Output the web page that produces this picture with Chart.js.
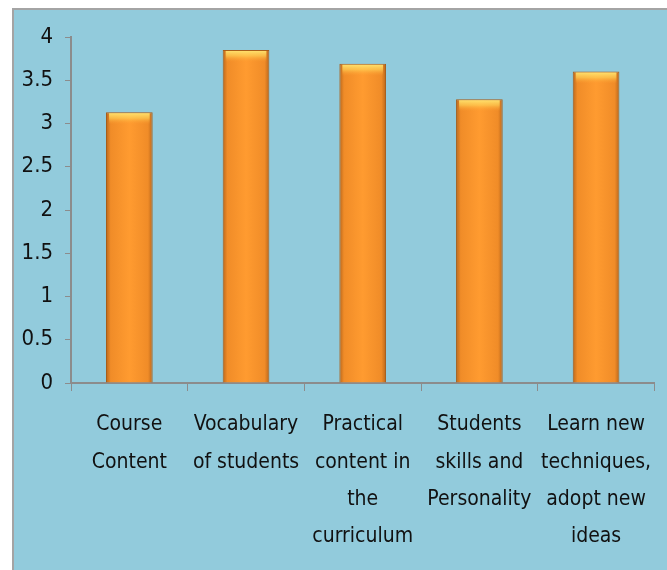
<!DOCTYPE html>
<html>
<head>
<meta charset="utf-8">
<script src="https://cdn.jsdelivr.net/npm/chart.js@4"></script>
<style>
  html, body { margin: 0; padding: 0; background: #fff; }
  #wrap { width: 667px; height: 570px; position: relative; }
</style>
</head>
<body>
<div id="wrap"><canvas id="chart"></canvas></div>
<script>
const categories = [
    ['Course', 'Content'],
    ['Vocabulary', 'of students'],
    ['Practical', 'content in', 'the', 'curriculum'],
    ['Students', 'skills and', 'Personality'],
    ['Learn new', 'techniques,', 'adopt new', 'ideas']
];
const scores = [3.13, 3.85, 3.69, 3.28, 3.6];
const yTicks = [0, 0.5, 1, 1.5, 2, 2.5, 3, 3.5, 4];

const fontFamily = '"Liberation Sans Narrow", "DejaVu Sans Condensed", "Roboto Condensed", sans-serif';

// panel behind the chart
const panel = {
    id: 'panel',
    beforeDraw(chart) {
        const c = chart.ctx;
        c.save();
        c.fillStyle = '#ffffff';
        c.fillRect(0, 0, chart.width, chart.height);
        c.fillStyle = '#92CBDC';
        c.fillRect(12, 8, chart.width - 12, chart.height - 8);
        c.strokeStyle = '#a4a4a4';
        c.lineWidth = 2;
        c.beginPath();
        c.moveTo(13, chart.height);
        c.lineTo(13, 9);
        c.lineTo(chart.width, 9);
        c.stroke();
        c.restore();
    }
};

// light bevel on top of each bar
const bevel = {
    id: 'bevel',
    afterDatasetsDraw(chart) {
        const c = chart.ctx;
        chart.getDatasetMeta(0).data.forEach(bar => {
            const w = bar.width, left = bar.x - w / 2;
            const g = c.createLinearGradient(0, bar.y, 0, bar.y + 12);
            g.addColorStop(0, 'rgba(255,235,120,0.95)');
            g.addColorStop(0.5, 'rgba(255,215,90,0.6)');
            g.addColorStop(1, 'rgba(255,160,50,0)');
            c.save();
            c.fillStyle = g;
            c.fillRect(left + 3, bar.y + 1, w - 6, 12);
            c.restore();
        });
    }
};

function barFill(ctx) {
    const chart = ctx.chart;
    const xs = chart.scales && chart.scales.x;
    if (!xs || ctx.dataIndex === undefined || !xs.width) return '#F7962D';
    const cx = xs.getPixelForValue(ctx.dataIndex);
    const half = xs.width / categories.length * 0.4 / 2;
    if (!isFinite(cx) || !isFinite(half) || half <= 0) return '#F7962D';
    const g = chart.ctx.createLinearGradient(cx - half, 0, cx + half, 0);
    g.addColorStop(0, '#B9661B');
    g.addColorStop(0.1, '#F08C28');
    g.addColorStop(0.5, '#FF9B30');
    g.addColorStop(0.9, '#F08C28');
    g.addColorStop(1, '#B9661B');
    return g;
}

new Chart(document.getElementById('chart'), {
    type: 'bar',
    data: {
        labels: categories,
        datasets: [{
            data: scores,
            backgroundColor: barFill,
            borderColor: '#A85D18',
            borderWidth: 1,
            barPercentage: 0.8,
            categoryPercentage: 0.5
        }]
    },
    options: {
        responsive: true,
        maintainAspectRatio: false,
        animation: false,
        layout: { padding: { left: 12, top: 37, right: 9, bottom: 0 } },
        plugins: {
            legend: { display: false },
            tooltip: { enabled: false }
        },
        scales: {
            x: {
                grid: { drawOnChartArea: false, color: '#8c8c8c', tickLength: 8, offset: true },
                border: { color: '#8c8c8c', width: 2 },
                ticks: {
                    color: '#111111',
                    padding: 15,
                    maxRotation: 0,
                    autoSkip: false,
                    font: { family: fontFamily, size: 21, lineHeight: 1.78 }
                },
                afterFit(scale) { scale.height = 187; }
            },
            y: {
                min: 0,
                max: 4,
                afterBuildTicks(scale) { scale.ticks = yTicks.map(v => ({ value: v })); },
                grid: { drawOnChartArea: false, color: '#8c8c8c', tickLength: 6 },
                border: { color: '#8c8c8c', width: 2 },
                ticks: {
                    color: '#111111',
                    padding: 12,
                    callback: v => String(v),
                    font: { family: fontFamily, size: 22 }
                },
                afterFit(scale) { scale.width = 59; }
            }
        }
    },
    plugins: [panel, bevel]
});
</script>
</body>
</html>
